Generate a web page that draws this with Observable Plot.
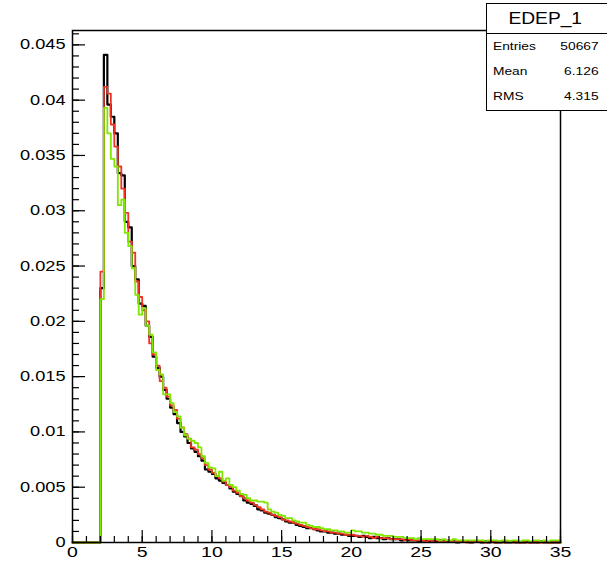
<!DOCTYPE html>
<html><head><meta charset="utf-8">
<script src="https://cdn.jsdelivr.net/npm/d3@7"></script>
<script src="https://cdn.jsdelivr.net/npm/@observablehq/plot@0.6"></script>
<style>
html,body{margin:0;padding:0;background:#fff;}
#wrap{position:relative;width:607px;height:562px;overflow:hidden;font-family:"Liberation Sans",Arial,sans-serif;color:#000;}
#stats{position:absolute;left:486px;top:3px;width:126px;height:108px;border:1.5px solid #000;background:#fff;box-sizing:border-box;}
#stats .title{position:absolute;left:0;top:0;height:29px;border-bottom:1.5px solid #000;text-align:center;line-height:30px;font-size:16px;width:100%;}
#stats .title span{display:inline-block;transform:scaleX(1.2);transform-origin:48px 50%;}
#stats .row{position:absolute;left:0;width:112px;height:14px;line-height:14px;font-size:11px;}
#stats .lab{position:absolute;left:6px;transform:scaleX(1.25);transform-origin:left center;}
#stats .val{position:absolute;right:0;transform:scaleX(1.25);transform-origin:right center;}
</style>
</head><body>
<div id="wrap"></div>
<script>
// Histogram EDEP_1: bins of width 0.25 starting at x = 2.0 (bins 0..2 empty)
const binStart = 2.0, binWidth = 0.25, xMax = 35;

// bins 2.00 .. 19.75
const blackMain = [
 .0230,.0441,.0396,.0385,.0370,.0334,.0332,.0290,.0285,.0250,.0238,.0216,
 .0214,.0196,.0186,.0168,.0158,.0150,.0138,.0130,.0122,.0116,.0108,.0100,
 .0096,.0090,.0085,.0082,.0078,.0074,.0066,.0064,.0062,.0058,.0056,.0054,
 .0052,.0049,.0046,.0044,.0042,.0038,.0036,.0035,.0033,.0030,.0029,.0027,
 .0026,.0025,.0023,.0022,.0021,.0019,.0018,.0018,.0016,.0015,.0014,.0013,
 .0013,.0012,.0011,.0010,.0010,.0009,.0009,.0008,.0008,.0007,.0007,.0006
];
const redMain = [
 .0245,.0412,.0406,.0378,.0358,.0340,.0320,.0298,.0272,.0262,.0236,.0222,
 .0210,.0200,.0180,.0170,.0160,.0146,.0140,.0132,.0124,.0120,.0112,.0104,
 .0098,.0094,.0086,.0084,.0080,.0076,.0070,.0066,.0063,.0060,.0058,.0055,
 .0052,.0050,.0047,.0045,.0042,.0040,.0038,.0036,.0034,.0032,.0030,.0028,
 .0027,.0025,.0024,.0023,.0021,.0020,.0019,.0018,.0017,.0016,.0015,.0014,
 .0013,.0012,.0012,.0011,.0010,.0010,.0009,.0009,.0008,.0008,.0007,.0007
];
const greenMain = [
 .0220,.0393,.0370,.0347,.0340,.0305,.0310,.0280,.0268,.0248,.0224,.0206,
 .0212,.0196,.0188,.0172,.0156,.0152,.0134,.0134,.0126,.0118,.0114,.0104,
 .0097,.0094,.0092,.0090,.0086,.0078,.0072,.0068,.0067,.0060,.0064,.0056,
 .0058,.0052,.0050,.0047,.0044,.0043,.0040,.0038,.0038,.0037,.0037,.0036,
 .0030,.0028,.0027,.0025,.0024,.0022,.0022,.0020,.0019,.0018,.0018,.0016,
 .0015,.0014,.0014,.0013,.0012,.0012,.0011,.0011,.0010,.0010,.0009,.0009
];
// bins 20.00 .. 34.75
const blackTail = [
 .0006,.0006,.0005,.0006,.0005,.0004,.0005,.0004,.0004,.0003,.0004,.0003,
 .0003,.0003,.0002,.0003,.0002,.0002,.0002,.0001,.0002,.0002,.0001,.0001,
 .0001,.0002,.0001,.0001,.0001,.0001,.0000,.0001,.0001,.0001,.0000,.0001,
 .0001,.0000,.0001,.0000,.0001,.0000,.0000,.0001,.0000,.0000,.0001,.0000,
 .0000,.0000,.0001,.0000,.0000,.0000,.0001,.0000,.0000,.0000,.0000,.0000
];
const redTail = [
 .0007,.0006,.0006,.0005,.0006,.0005,.0004,.0005,.0004,.0004,.0004,.0003,
 .0003,.0003,.0003,.0002,.0003,.0002,.0002,.0002,.0002,.0001,.0002,.0001,
 .0002,.0001,.0001,.0002,.0001,.0001,.0001,.0001,.0001,.0000,.0001,.0001,
 .0001,.0001,.0000,.0001,.0001,.0000,.0001,.0000,.0001,.0001,.0000,.0001,
 .0000,.0001,.0000,.0000,.0001,.0000,.0000,.0001,.0000,.0000,.0001,.0000
];
const greenTail = [
 .0011,.0010,.0010,.0009,.0009,.0008,.0008,.0007,.0007,.0006,.0006,.0006,
 .0005,.0005,.0005,.0004,.0004,.0004,.0003,.0004,.0003,.0003,.0003,.0003,
 .0003,.0002,.0003,.0002,.0002,.0003,.0002,.0002,.0002,.0002,.0002,.0002,
 .0002,.0002,.0001,.0002,.0002,.0002,.0001,.0002,.0002,.0001,.0002,.0002,
 .0001,.0002,.0002,.0001,.0002,.0002,.0001,.0002,.0001,.0002,.0002,.0002
];

const xMajor = [0, 5, 10, 15, 20, 25, 30, 35];
const xMinor = d3.range(0, 36, 1);
const yMajor = [0, 0.005, 0.01, 0.015, 0.02, 0.025, 0.03, 0.035, 0.04, 0.045];
const yMinor = d3.range(0, 47).map(i => i / 1000);

const statsTitle = "EDEP_1";
const statsLabels = ["Entries", "Mean", "RMS"];
const statsValues = ["50667", "6.126", "4.315"];

function outline(vals) {
  const pts = [{x: 0, y: 0}];
  vals.forEach((v, i) => pts.push({x: binStart + i * binWidth, y: v}));
  pts.push({x: xMax, y: vals[vals.length - 1]});
  pts.push({x: xMax, y: 0});
  return pts;
}
const black = outline(blackMain.concat(blackTail));
const red = outline(redMain.concat(redTail));
const green = outline(greenMain.concat(greenTail));

const W = 607, H = 562, mL = 72, mR = 47, mT = 30, mB = 20;
const fw = W - mL - mR, fh = H - mT - mB;

const svg = Plot.plot({
  width: W, height: H,
  marginLeft: mL, marginRight: mR, marginTop: mT, marginBottom: mB,
  x: {domain: [0, 35]},
  y: {domain: [0, 0.0463]},
  style: {fontFamily: "'Liberation Sans', Arial, sans-serif", fontSize: "14px", background: "white", color: "#000", overflow: "hidden"},
  marks: [
    Plot.line(black, {x: "x", y: "y", curve: "step-after", stroke: "#000", strokeWidth: 2.2}),
    Plot.line(red, {x: "x", y: "y", curve: "step-after", stroke: "#f03424", strokeWidth: 1.8}),
    Plot.line(green, {x: "x", y: "y", curve: "step-after", stroke: "#7fe600", strokeWidth: 1.8}),
    Plot.ruleX(xMinor, {x: d => d, insetTop: fh - 6, stroke: "#000", strokeWidth: 1.2}),
    Plot.ruleX(xMajor, {x: d => d, insetTop: fh - 12, stroke: "#000", strokeWidth: 1.2}),
    Plot.ruleY(yMinor, {y: d => d, insetRight: fw - 7, stroke: "#000", strokeWidth: 1.2}),
    Plot.ruleY(yMajor, {y: d => d, insetRight: fw - 13, stroke: "#000", strokeWidth: 1.2}),
    Plot.axisX({ticks: xMajor, tickSize: 0, tickPadding: 4, fontSize: 15, label: null, tickFormat: d => String(d)}),
    Plot.axisY({ticks: yMajor, tickSize: 0, tickPadding: 7, fontSize: 14, label: null, tickFormat: d => String(+d.toFixed(3))}),
    Plot.frame({stroke: "#000", strokeWidth: 1.5})
  ]
});

// widen tick labels horizontally like the reference rendering
svg.querySelectorAll("text").forEach(el => {
  const t = el.getAttribute("transform") || "";
  el.setAttribute("transform", `${t} scale(1.3,1)`);
});

const wrap = document.getElementById("wrap");
wrap.appendChild(svg);

const stats = document.createElement("div");
stats.id = "stats";
let html = `<div class="title"><span>${statsTitle}</span></div>`;
const rowTops = [35, 60, 85];
statsLabels.forEach((l, i) => {
  html += `<div class="row" style="top:${rowTops[i]}px"><span class="lab">${l}</span><span class="val">${statsValues[i]}</span></div>`;
});
stats.innerHTML = html;
wrap.appendChild(stats);
</script>
</body></html>
